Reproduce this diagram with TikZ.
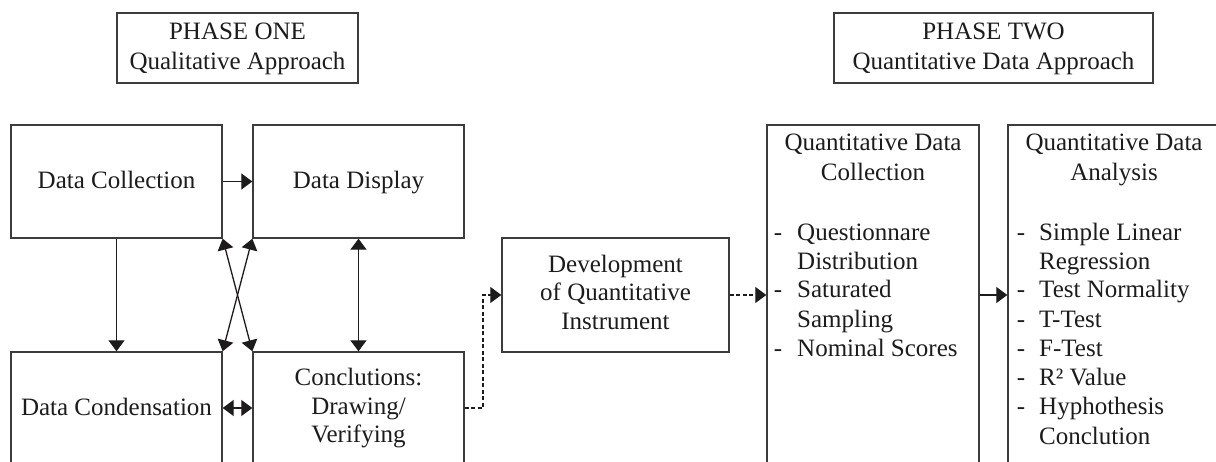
\documentclass[tikz,border=0pt]{standalone}
\usepackage{fontspec}
\setmainfont{Liberation Serif}
\usetikzlibrary{arrows.meta}
\definecolor{ink}{HTML}{1E1B1C}
\definecolor{edge}{HTML}{3C3C3C}
\begin{document}
\begin{tikzpicture}[x=1pt,y=-1pt, font=\fontsize{25}{29}\selectfont, text=ink,
  box/.style={draw=edge, line width=1.4pt, inner sep=0pt},
  txt/.style={anchor=base, inner sep=0pt},
  itm/.style={anchor=base west, inner sep=0pt},
  tip/.style={},
  arr/.style={draw=ink, line width=1.3pt, -{Triangle[length=11pt,width=16pt]}},
  darr/.style={draw=ink, line width=1.3pt, {Triangle[length=11pt,width=16pt]}-{Triangle[length=11pt,width=16pt]}},
  dsh/.style={draw=ink, line width=1.2pt, dash pattern=on 4pt off 2.5pt, -{Triangle[length=11pt,width=16pt]}}]
\useasboundingbox (0,0) rectangle (1216,462);
\clip (0,0) rectangle (1216,462);
% phase boxes
\node[box, minimum width=241pt, minimum height=70pt] (p1) at (237.5,48) {};
\node[txt] (p1a) at (237.5,40) {PHASE ONE};
\node[txt] (p1b) at (237.5,70) {Qualitative Approach};
\node[box, minimum width=319pt, minimum height=70pt] (p2) at (993.5,48) {};
\node[txt] (p2a) at (993.5,40) {PHASE TWO};
\node[txt] (p2b) at (993.5,70) {Quantitative Data Approach};
% phase one boxes
\node[box, minimum width=211pt, minimum height=113pt] (dc) at (116.5,181.5) {};
\node[txt] (dct) at (116.5,189) {Data Collection};
\node[box, minimum width=211pt, minimum height=113pt] (dd) at (358.5,181.5) {};
\node[txt] (ddt) at (358.5,189) {Data Display};
\node[box, minimum width=211pt, minimum height=130pt] (cond) at (116.5,417) {};
\node[txt] (condt) at (116.5,415) {Data Condensation};
\node[box, minimum width=211pt, minimum height=130pt] (concl) at (358.5,417) {};
\node[txt] (cc1) at (358.5,385) {Conclutions:};
\node[txt] (cc2) at (358.5,414) {Drawing/};
\node[txt] (cc3) at (358.5,442) {Verifying};
% development
\node[box, minimum width=227pt, minimum height=114pt] (dev) at (615.5,295) {};
\node[txt] (dv1) at (615.5,273) {Development};
\node[txt] (dv2) at (615.5,301) {of Quantitative};
\node[txt] (dv3) at (615.5,330) {Instrument};
% quantitative collection
\node[box, minimum width=212pt, minimum height=357pt] (qc) at (873,303.5) {};
\node[txt] (qct1) at (873,151) {Quantitative Data};
\node[txt] (qct2) at (873,181) {Collection};
\foreach \y [count=\i] in {241,298,356} \node[txt] (qcd\i) at (778,\y) {-};
\foreach \t/\y [count=\i] in {Questionnare/241, Distribution/270, Saturated/298, Sampling/328, Nominal Scores/356}
  \node[itm] (qci\i) at (797,\y) {\t};
% quantitative analysis
\node[box, minimum width=222pt, minimum height=357pt] (qa) at (1119,303.5) {};
\node[txt] (qat1) at (1114,151) {Quantitative Data};
\node[txt] (qat2) at (1114,181) {Analysis};
\foreach \y [count=\i] in {241,298,328,356,385,414} \node[txt] (qad\i) at (1021,\y) {-};
\foreach \t/\y [count=\i] in {Simple Linear/241, Regression/270, Test Normality/298, T-Test/328, F-Test/356, R² Value/385, Hyphothesis/414, Conclution/444}
  \node[itm] (qai\i) at (1039,\y) {\t};
% connectors
\coordinate (hl) at (0,408);
\coordinate (bend) at (483,295);
\draw[arr] (dc.east) -- (dd.west);
\draw[arr] (dc.south) -- (cond.north);
\draw[darr] (dc.south east) -- (concl.north west);
\draw[darr] (dd.south west) -- (cond.north east);
\draw[darr] (dd.south) -- (concl.north);
\draw[darr] (cond.east |- hl) -- (concl.west |- hl);
\draw[dsh] (concl.east |- hl) -| (bend) -- (dev.west);
\draw[dsh] (dev.east) -- (dev.east -| qc.west);
\draw[arr] (qc.east |- dev.east) -- (qa.west |- dev.east);
\end{tikzpicture}
\end{document}
